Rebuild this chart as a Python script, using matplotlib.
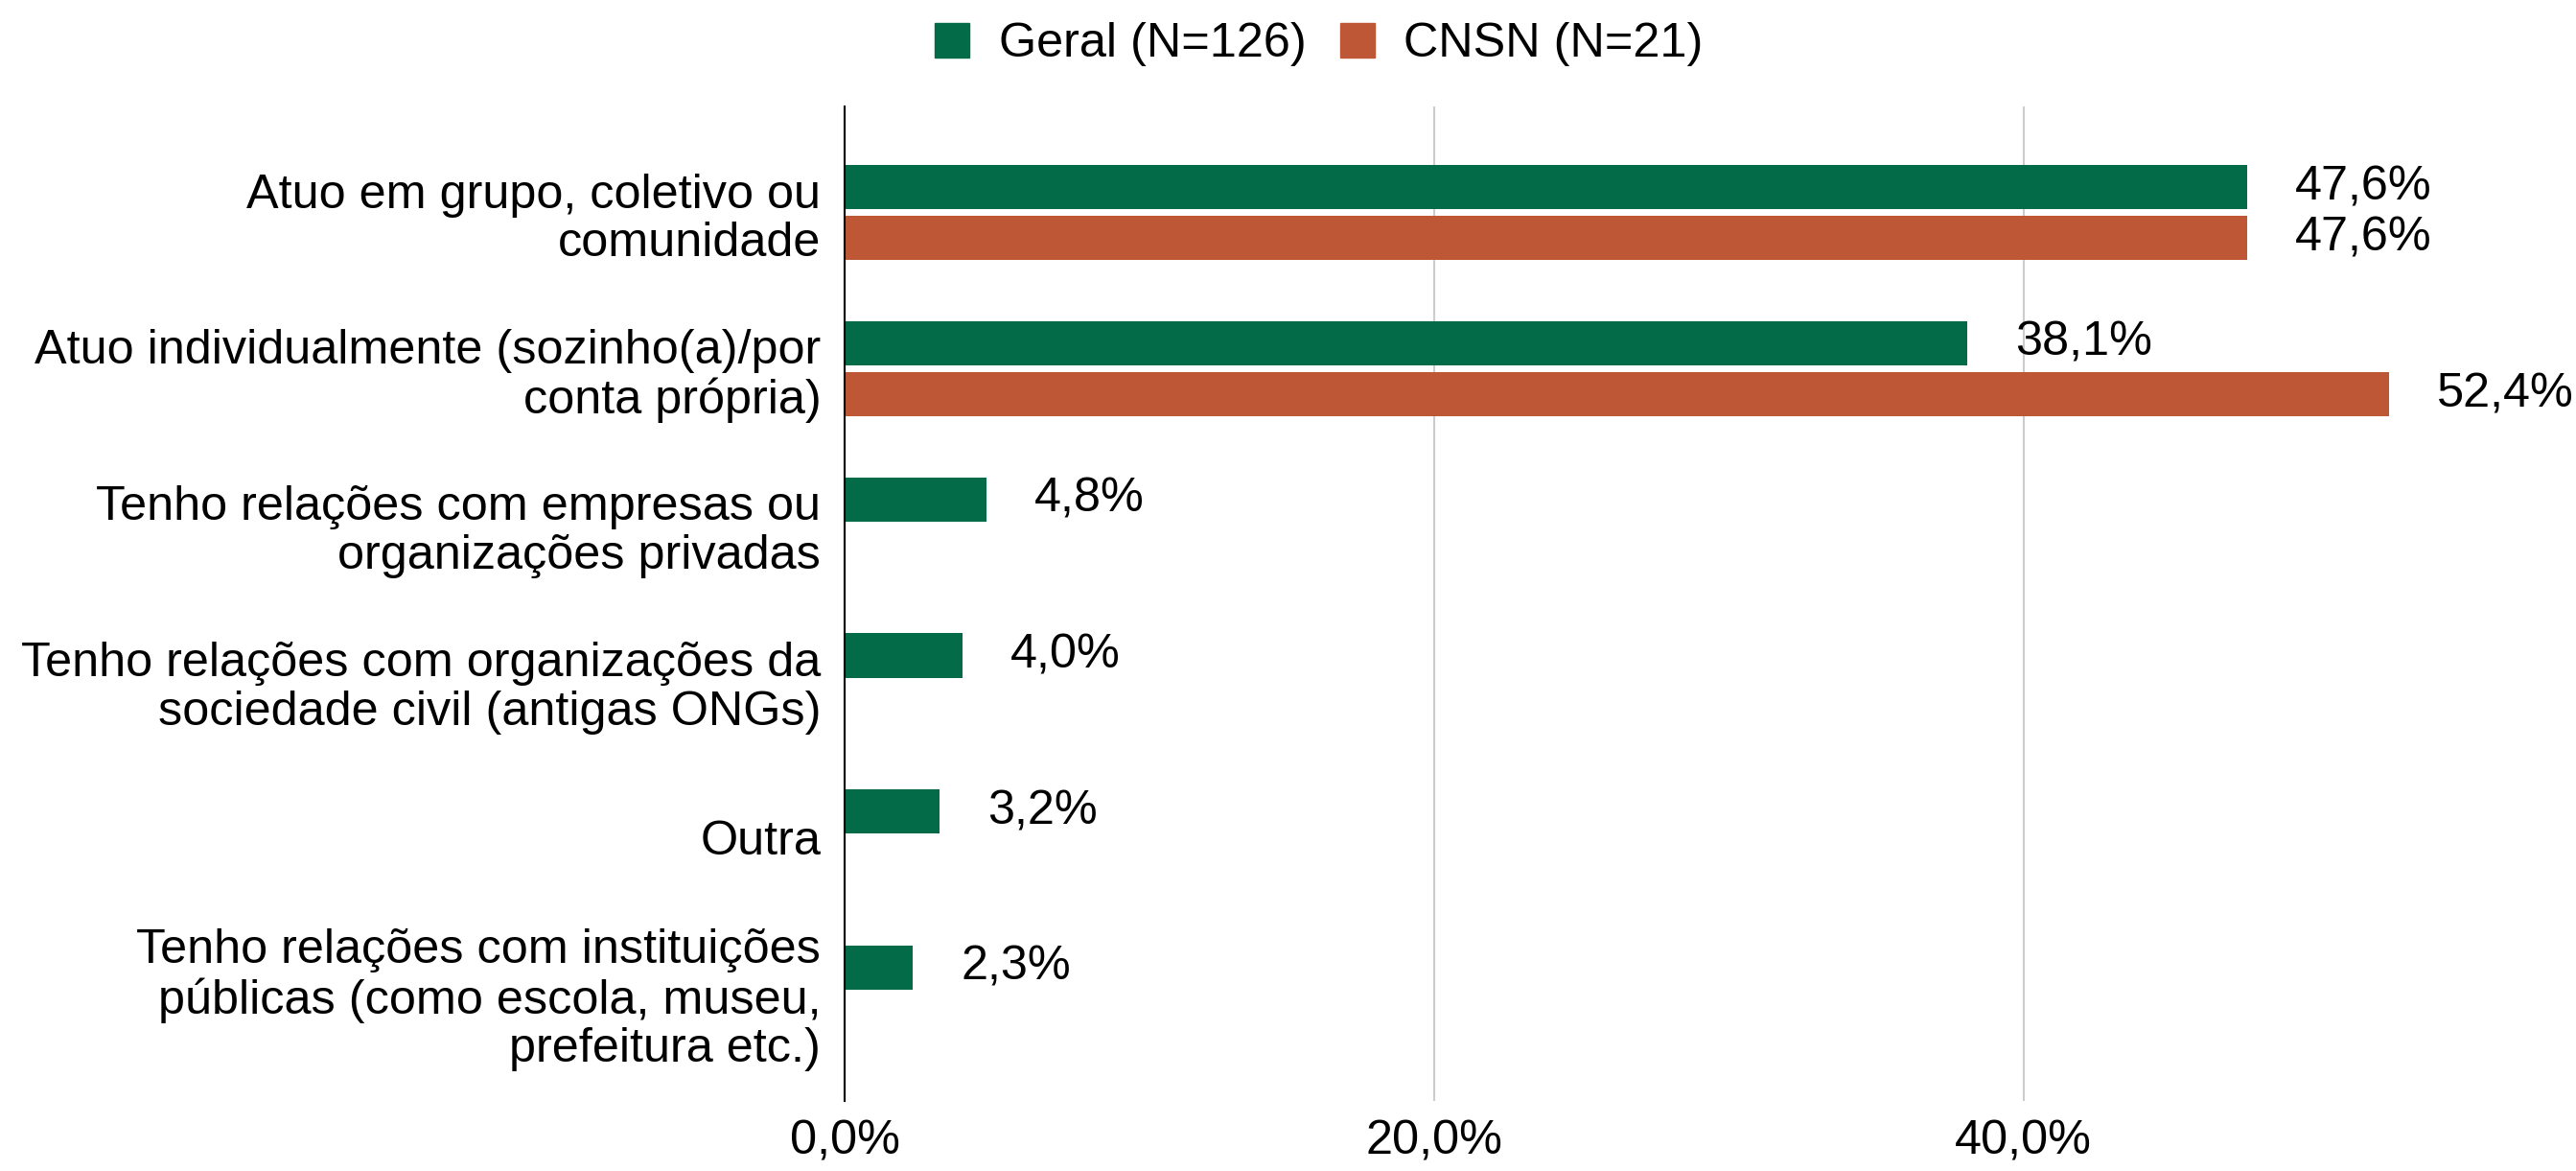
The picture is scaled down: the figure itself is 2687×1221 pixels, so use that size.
import numpy as np
import matplotlib.pyplot as plt

plt.rcParams['font.family'] = ['Liberation Sans', 'DejaVu Sans']

categories = [
	"Atuo em grupo, coletivo ou\ncomunidade",
	"Atuo individualmente (sozinho(a)/por\nconta própria)",
	"Tenho relações com empresas ou\norganizações privadas",
	"Tenho relações com organizações da\nsociedade civil (antigas ONGs)",
	"Outra",
	"Tenho relações com instituições\npúblicas (como escola, museu,\nprefeitura etc.)",
	]

geral = [47.6, 38.1, 4.8, 4.0, 3.2, 2.3]
cnsn = [47.6, 52.4, None, None, None, None]

labels = ["Geral (N=126)", "CNSN (N=21)"]
colors = ["#036b47", "#bd5735"]

fs = 36.3

fig = plt.figure(figsize=(26.87, 12.21), dpi=100)
ax = fig.add_axes([0.328, 0.06, 0.652, 0.849])

y = np.arange(len(categories))
h = 0.285
off = 0.163

def fmt(v):
	return ("%.1f%%" % v).replace(".", ",")

for i in range(len(categories)):
	yg = y[i] - off
	if cnsn[i] is not None:
		ax.barh(y[i] + off, cnsn[i], height=h, color=colors[1], zorder=3)
		ax.annotate(fmt(cnsn[i]), (cnsn[i], y[i] + off), xytext=(36, 0),
			textcoords='offset points', va='center', ha='left', fontsize=fs)
	ax.barh(yg, geral[i], height=h, color=colors[0], zorder=3)
	ax.annotate(fmt(geral[i]), (geral[i], yg), xytext=(36, 0),
		textcoords='offset points', va='center', ha='left', fontsize=fs)

ax.set_xlim(0, 57)
ax.set_ylim(len(categories) - 1 + 0.69, -0.68)
ax.set_yticks(y)
ax.set_yticklabels(categories, fontsize=fs, linespacing=1.13)
ax.set_xticks([0, 20, 40])
ax.set_xticklabels(["0,0%", "20,0%", "40,0%"], fontsize=fs)
ax.tick_params(axis='both', length=0)
ax.tick_params(axis='y', pad=18)
ax.tick_params(axis='x', pad=14)

for s in ['top', 'right', 'bottom']:
	ax.spines[s].set_visible(False)
ax.spines['left'].set_color('black')
ax.spines['left'].set_linewidth(1.5)
ax.spines['left'].set_zorder(4)

ax.xaxis.grid(True, color='#cccccc', linewidth=1.5, zorder=0)

handles = [plt.Rectangle((0, 0), 1, 1, color=c) for c in colors]
fig.legend(handles, labels, loc='center', bbox_to_anchor=(0.512, 0.962), ncol=2,
	frameon=False, fontsize=fs, handlelength=0.72, handleheight=0.72,
	handletextpad=0.6, columnspacing=0.7)

plt.savefig("out.png")
